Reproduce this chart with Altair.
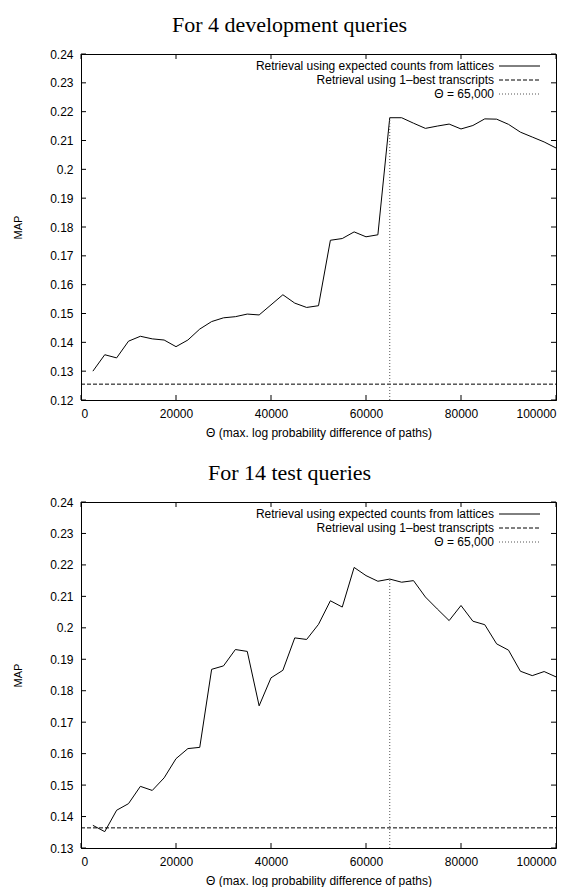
import altair as alt
import pandas as pd

theta = [2500, 5000, 7500, 10000, 12500, 15000, 17500, 20000, 22500, 25000,
         27500, 30000, 32500, 35000, 37500, 40000, 42500, 45000, 47500, 50000,
         52500, 55000, 57500, 60000, 62500, 65000, 67500, 70000, 72500, 75000,
         77500, 80000, 82500, 85000, 87500, 90000, 92500, 95000, 97500, 100000]

dev_map = [0.1300, 0.1357, 0.1346, 0.1404, 0.1421, 0.1412, 0.1408, 0.1385, 0.1408, 0.1446,
           0.1472, 0.1485, 0.1489, 0.1498, 0.1495, 0.1530, 0.1565, 0.1536, 0.1521, 0.1527,
           0.1754, 0.1760, 0.1783, 0.1766, 0.1773, 0.2179, 0.2179, 0.2160, 0.2142, 0.2150,
           0.2157, 0.2140, 0.2152, 0.2175, 0.2174, 0.2156, 0.2129, 0.2112, 0.2095, 0.2074]

test_map = [0.1372, 0.1352, 0.1420, 0.1441, 0.1496, 0.1483, 0.1523, 0.1584, 0.1616, 0.1620,
            0.1868, 0.1879, 0.1931, 0.1925, 0.1752, 0.1841, 0.1865, 0.1968, 0.1963, 0.2011,
            0.2086, 0.2066, 0.2192, 0.2166, 0.2148, 0.2155, 0.2145, 0.2150, 0.2098, 0.2060,
            0.2023, 0.2071, 0.2021, 0.2010, 0.1949, 0.1929, 0.1862, 0.1848, 0.1861, 0.1844]

dev_baseline = 0.1255
test_baseline = 0.1364
theta_choice = 65000

x_ticks = [0, 20000, 40000, 60000, 80000, 100000]
dev_y_ticks = [0.12, 0.13, 0.14, 0.15, 0.16, 0.17, 0.18, 0.19, 0.2, 0.21, 0.22, 0.23, 0.24]
test_y_ticks = [0.13, 0.14, 0.15, 0.16, 0.17, 0.18, 0.19, 0.2, 0.21, 0.22, 0.23, 0.24]

legend_labels = ["Retrieval using expected counts from lattices",
                 "Retrieval using 1\u2013best transcripts",
                 "\u0398 = 65,000"]
panel_titles = ["For 4 development queries", "For 14 test queries"]
x_title = "\u0398 (max. log probability difference of paths)"
y_title = "MAP"

W, H = 475, 346
SANS = "Liberation Sans"
SERIF = "Liberation Serif"
DASH = [4, 2]
DOT = [1, 2]


def panel(title, values, baseline, yticks):
    ymin, ymax = yticks[0], yticks[-1]
    xs = alt.Scale(domain=[0, 100000], nice=False)
    ys = alt.Scale(domain=[ymin, ymax], nice=False, zero=False)
    xaxis = alt.Axis(values=x_ticks, format="d", title=x_title)
    yaxis = alt.Axis(values=yticks, format="~g", title=y_title)
    df = pd.DataFrame({"theta": theta, "map": values})

    line = alt.Chart(df).mark_line(color="black", strokeWidth=1).encode(
        x=alt.X("theta:Q", scale=xs, axis=xaxis),
        y=alt.Y("map:Q", scale=ys, axis=yaxis),
    )

    base_df = pd.DataFrame({"b": [baseline]})
    base = alt.Chart(base_df).mark_rule(color="black", strokeWidth=1, strokeDash=DASH).encode(
        y=alt.Y("b:Q", scale=ys, axis=yaxis),
        x=alt.value(0), x2=alt.value(W),
    )

    at_choice = values[theta.index(theta_choice)]
    vdf = pd.DataFrame({"t": [theta_choice], "lo": [ymin], "hi": [at_choice]})
    vline = alt.Chart(vdf).mark_rule(color="#555555", strokeWidth=1, strokeDash=DOT).encode(
        x=alt.X("t:Q", scale=xs, axis=xaxis),
        y=alt.Y("lo:Q", scale=ys, axis=yaxis),
        y2="hi:Q",
    )

    xt = pd.DataFrame({"tx": x_ticks})
    yt = pd.DataFrame({"ty": yticks})
    tick_top = alt.Chart(xt).mark_rule(color="black").encode(
        x=alt.X("tx:Q", scale=xs, axis=xaxis), y=alt.value(0), y2=alt.value(5))
    tick_bot = alt.Chart(xt).mark_rule(color="black").encode(
        x=alt.X("tx:Q", scale=xs, axis=xaxis), y=alt.value(H), y2=alt.value(H - 5))
    tick_left = alt.Chart(yt).mark_rule(color="black").encode(
        y=alt.Y("ty:Q", scale=ys, axis=yaxis), x=alt.value(0), x2=alt.value(5))
    tick_right = alt.Chart(yt).mark_rule(color="black").encode(
        y=alt.Y("ty:Q", scale=ys, axis=yaxis), x=alt.value(W), x2=alt.value(W - 5))

    legend_layers = []
    row_y = [12, 26, 40]
    styles = [dict(color="black"), dict(color="black", strokeDash=DASH),
              dict(color="#555555", strokeDash=DOT)]
    for i, lab in enumerate(legend_labels):
        ldf = pd.DataFrame({"label": [lab]})
        legend_layers.append(
            alt.Chart(ldf).mark_text(align="right", baseline="middle", font=SANS,
                                     fontSize=12, color="black").encode(
                x=alt.value(413), y=alt.value(row_y[i]), text="label:N"))
        legend_layers.append(
            alt.Chart(ldf).mark_rule(strokeWidth=1, **styles[i]).encode(
                x=alt.value(418), x2=alt.value(459), y=alt.value(row_y[i])))

    return alt.layer(line, base, vline, tick_top, tick_bot, tick_left, tick_right,
                     *legend_layers).properties(
        width=W, height=H,
        title=alt.TitleParams(title, font=SERIF, fontSize=22, fontWeight="normal",
                              color="black", dx=-29, offset=11),
    )


p1 = panel(panel_titles[0], dev_map, dev_baseline, dev_y_ticks)
p2 = panel(panel_titles[1], test_map, test_baseline, test_y_ticks)

chart = alt.vconcat(p1, p2, spacing=22).properties(
    padding={"left": 4, "top": 5, "right": 5, "bottom": 0}
).configure_view(
    stroke="black", strokeWidth=1
).configure_axis(
    grid=False, ticks=False, domainColor="black", domainWidth=1,
    labelFont=SANS, labelFontSize=12, labelColor="black", labelPadding=8,
    titleFont=SANS, titleFontWeight="normal", titleColor="black",
).configure_axisX(
    titleFontSize=12, titlePadding=8,
).configure_axisY(
    titleFontSize=11, titlePadding=26,
)

chart.save("out.html", embed_options={"renderer": "svg", "actions": False})
